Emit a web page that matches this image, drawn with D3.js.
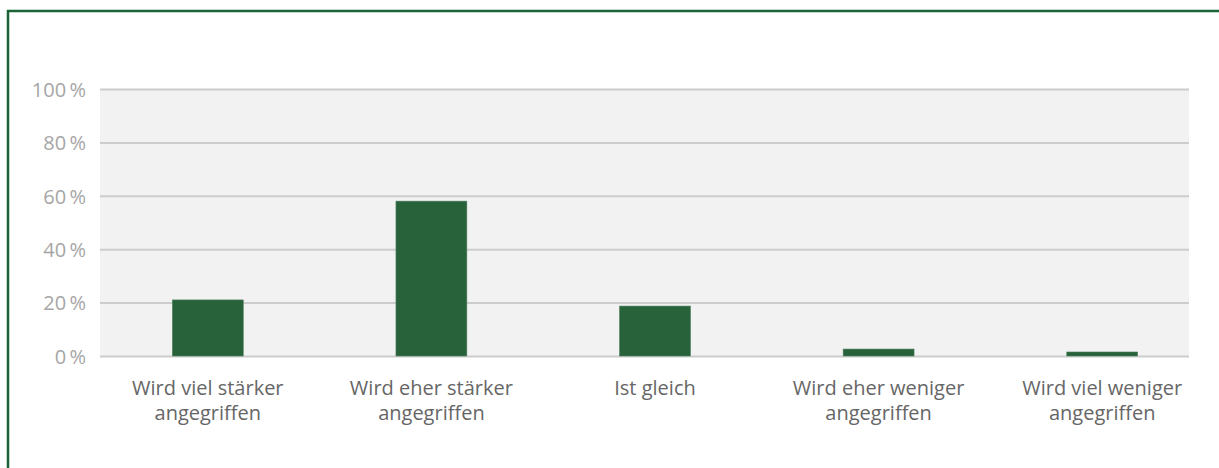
<!DOCTYPE html>
<html><head><meta charset="utf-8">
<script src="https://cdn.jsdelivr.net/npm/d3@7"></script>
<style>body{margin:0;background:#fff}svg{display:block}</style>
</head><body>
<svg id="c" width="1219" height="468"></svg>
<script>
const categories = [
  ["Wird viel stärker", "angegriffen"],
  ["Wird eher stärker", "angegriffen"],
  ["Ist gleich"],
  ["Wird eher weniger", "angegriffen"],
  ["Wird viel weniger", "angegriffen"]
];
const values = [21, 58, 18.7, 2.6, 1.5];
const yTicks = [0, 20, 40, 60, 80, 100];

const svg = d3.select("#c");
const font = "'Open Sans', Lato, sans-serif";

// outer frame
svg.append("rect").attr("x", 8).attr("y", 11).attr("width", 1400).attr("height", 700)
  .attr("fill", "none").attr("stroke", "#1b6336").attr("stroke-width", 2.5);

const plot = {left: 100, right: 1189, top: 89, bottom: 356};
const y = d3.scaleLinear().domain([0, 100]).range([plot.bottom, plot.top]);
const x = d3.scaleBand().domain(d3.range(categories.length)).range([96, 1214])
  .paddingInner(0.683).paddingOuter(0.683 / 2);

svg.append("rect").attr("x", plot.left).attr("y", plot.top)
  .attr("width", plot.right - plot.left).attr("height", plot.bottom - plot.top)
  .attr("fill", "#f2f2f2");

// y axis gridlines and labels
const yAxis = d3.axisLeft(y).tickValues(yTicks).tickSize(-(plot.right - plot.left))
  .tickPadding(14).tickFormat(d => d + "\u2009%");
const gy = svg.append("g").attr("transform", `translate(${plot.left},0)`).call(yAxis);
gy.select(".domain").remove();
gy.selectAll(".tick line").attr("stroke", "#cccccc").attr("stroke-width", 2);
gy.selectAll(".tick text").attr("fill", "#a6a6a6").attr("dy", "0.36em")
  .style("font-family", font).style("font-size", "20px");

// bars
svg.append("g").selectAll("rect").data(values).join("rect")
  .attr("x", (d, i) => x(i)).attr("width", x.bandwidth())
  .attr("y", d => y(d)).attr("height", d => y(0) - y(d))
  .attr("fill", "#27623a").attr("stroke", "#4f7f5c").attr("stroke-width", 0.6);

// x labels
const xl = svg.append("g").selectAll("text").data(categories).join("text")
  .attr("x", (d, i) => x(i) + x.bandwidth() / 2).attr("y", 395)
  .attr("text-anchor", "middle").attr("fill", "#666666")
  .style("font-family", font).style("font-size", "20px");
xl.selectAll("tspan").data(d => d).join("tspan")
  .attr("x", function() { return this.parentNode.getAttribute("x"); })
  .attr("dy", (d, i) => i === 0 ? 0 : 25).text(d => d);
</script>
</body></html>
